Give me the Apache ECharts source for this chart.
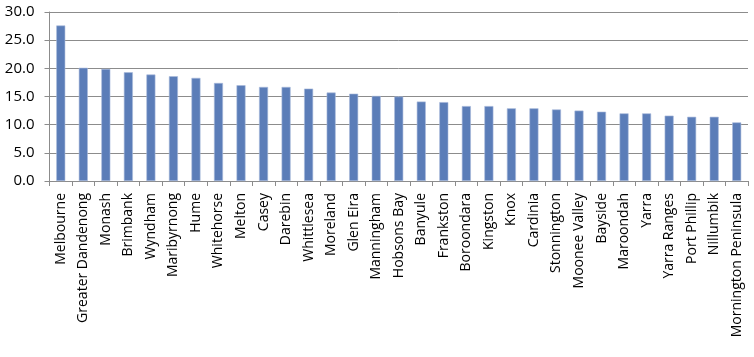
<!DOCTYPE html>
<html><head><meta charset="utf-8">
<script src="https://cdn.jsdelivr.net/npm/echarts@6/dist/echarts.min.js"></script>
<style>html,body{margin:0;padding:0;background:#fff}#c{width:754px;height:357px}</style>
</head><body><div id="c"></div>
<script>
const categories = ["Melbourne","Greater Dandenong","Monash","Brimbank","Wyndham","Maribyrnong","Hume","Whitehorse","Melton","Casey","Darebin","Whittlesea","Moreland","Glen Eira","Manningham","Hobsons Bay","Banyule","Frankston","Boroondara","Kingston","Knox","Cardinia","Stonnington","Moonee Valley","Bayside","Maroondah","Yarra","Yarra Ranges","Port Phillip","Nillumbik","Mornington Peninsula"];
const values = [27.6,20.1,19.9,19.3,18.9,18.6,18.3,17.4,17.0,16.7,16.7,16.4,15.7,15.5,15.1,15.0,14.1,14.0,13.3,13.3,12.9,12.9,12.7,12.5,12.3,12.0,12.0,11.6,11.4,11.4,10.4];
const yTicks = {min:0, max:30, interval:5};

const chart = echarts.init(document.getElementById('c'));
chart.setOption({
  animation:false,
  grid:{left:49.5, right:6, top:12, bottom:176, containLabel:false},
  xAxis:{type:'category', data:categories,
    axisLine:{lineStyle:{color:'#8c8c8c', width:1}},
    axisTick:{show:true, length:5, lineStyle:{color:'#8c8c8c'}},
    axisLabel:{rotate:90, interval:0, margin:12, fontFamily:'Open Sans', fontSize:14, color:'#000'}},
  yAxis:{type:'value', min:yTicks.min, max:yTicks.max, interval:yTicks.interval,
    axisLine:{show:true, lineStyle:{color:'#8c8c8c'}},
    axisTick:{show:true, length:5, lineStyle:{color:'#8c8c8c'}},
    splitLine:{lineStyle:{color:'#8c8c8c', width:1}},
    axisLabel:{formatter:v=>v.toFixed(1), fontFamily:'Open Sans', fontSize:15, color:'#000', margin:15}},
  series:[{type:'bar', data:values, barWidth:9,
    itemStyle:{color:'#5b7db8', borderColor:'#a9bbdb', borderWidth:0.6}}]
});
</script></body></html>
